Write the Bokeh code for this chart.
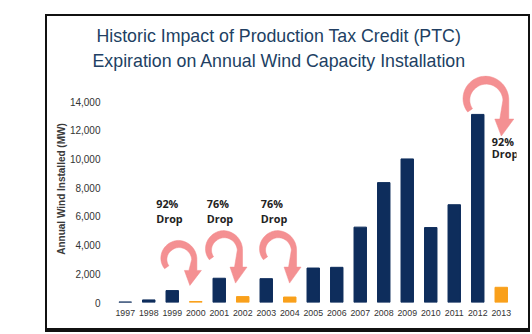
import numpy as np
from bokeh.plotting import figure
from bokeh.models import Range1d, FixedTicker, NumeralTickFormatter, Title, ColumnDataSource
from bokeh.core.properties import value
from bokeh.embed import file_html
from bokeh.resources import INLINE

# ---- data ----
years = [1997, 1998, 1999, 2000, 2001, 2002, 2003, 2004, 2005,
         2006, 2007, 2008, 2009, 2010, 2011, 2012, 2013]
installed_mw = [40, 180, 830, 70, 1690, 410, 1660, 380, 2400,
                2450, 5250, 8350, 10000, 5220, 6810, 13100, 1060]
ptc_lapse_years = [2000, 2002, 2004, 2013]
y_ticks = [0, 2000, 4000, 6000, 8000, 10000, 12000, 14000]

drop_text = ["92%", "76%", "76%", "92%"]
drop_from_years = [1999, 2001, 2003, 2012]

title_line1 = "Historic Impact of Production Tax Credit (PTC)"
title_line2 = "Expiration on Annual Wind Capacity Installation"
y_label = "Annual Wind Installed (MW)"

# ---- styling ----
NAVY = "#0E2D5C"
ORANGE = "#F9A01B"
PINK = "#F38A8C"
TITLE_C = "#213F63"

W, H = 481, 314
MB_L, MB_R, MB_T, MB_B = 66, 12, 59, 28
X0 = 1996.5
PX_PER_YEAR = 23.5
frame_w = W - MB_L - MB_R
frame_h = H - MB_T - MB_B
X1 = X0 + frame_w / PX_PER_YEAR
PX_PER_MW = 201.0 / 14000.0
Y1 = frame_h / PX_PER_MW

p = figure(width=W, height=H, output_backend="svg", toolbar_location=None,
           x_range=Range1d(X0, X1), y_range=Range1d(0, Y1),
           min_border_left=MB_L, min_border_right=MB_R,
           min_border_top=MB_T, min_border_bottom=MB_B,
           title=None)
# slide frame: outline for top/sides, a background stripe for the bottom edge
p.styles = {"outline": "2px solid #111", "position": "absolute",
            "left": "47px", "top": "16px",
            "width": f"{W}px", "height": f"{H}px",
            "background-color": "white",
            "background-image": "linear-gradient(#111111, #111111)",
            "background-repeat": "no-repeat",
            "background-size": "100% 2px",
            "background-position": f"0px {H - 2}px"}
p.outline_line_color = None
p.xgrid.grid_line_color = None
p.ygrid.grid_line_color = None
p.background_fill_color = "white"
p.border_fill_color = None

colors = [ORANGE if y in ptc_lapse_years else NAVY for y in years]
src = ColumnDataSource(dict(x=years, top=installed_mw, color=colors))
p.vbar(x="x", top="top", width=0.53, color="color", source=src)

# axes
p.yaxis.ticker = FixedTicker(ticks=y_ticks)
p.yaxis.formatter = NumeralTickFormatter(format="0,0")
p.yaxis.axis_line_color = None
p.yaxis.major_tick_line_color = None
p.yaxis.minor_tick_line_color = None
p.yaxis.major_label_standoff = 7
p.yaxis.major_label_text_font = "Liberation Sans"
p.yaxis.major_label_text_font_size = "10px"
p.yaxis.major_label_text_color = "#333333"
p.yaxis.axis_label = y_label
p.yaxis.axis_label_standoff = 0
p.yaxis.axis_label_text_font = "Liberation Sans"
p.yaxis.axis_label_text_font_size = "10px"
p.yaxis.axis_label_text_font_style = "bold"
p.yaxis.axis_label_text_color = "#3a3a3a"

p.xaxis.ticker = FixedTicker(ticks=years)
p.xaxis.axis_line_color = None
p.xaxis.major_tick_line_color = None
p.xaxis.minor_tick_line_color = None
p.xaxis.major_label_standoff = 1
p.xaxis.major_label_text_font = "Liberation Sans"
p.xaxis.major_label_text_font_size = "8.8px"
p.xaxis.major_label_text_color = "#333333"

# titles
t2 = Title(text=title_line2, align="left", offset=-21, standoff=9,
           text_font="Liberation Sans", text_font_size="17.8px",
           text_font_style="normal", text_color=TITLE_C)
t1 = Title(text=title_line1, align="left", offset=-17, standoff=-3,
           text_font="Liberation Sans", text_font_size="17.8px",
           text_font_style="normal", text_color=TITLE_C)
p.add_layout(t2, "above")
p.add_layout(t1, "above")

# curved arrows (decoration), shaped in pixels and mapped through the data scale
def arrow_patch(cx, cy, r_out, thick, stem, head_len, wing, tilt):
    R = r_out - thick / 2.0
    th0 = np.radians(215)
    th = np.linspace(th0, 0, 50)
    frac = np.clip((th0 - th) / (th0 - np.radians(90)), 0, 1)
    t = thick * (0.3 + 0.7 * frac)
    ox = (R + t / 2) * np.cos(th)
    oy = (R + t / 2) * np.sin(th)
    ix = (R - t / 2) * np.cos(th[::-1])
    iy = (R - t / 2) * np.sin(th[::-1])
    xs = list(ox) + [R + thick / 2, R + thick / 2 + wing, R - tilt,
                     R - thick / 2 - wing, R - thick / 2] + list(ix)
    ys = list(oy) + [-stem, -stem, -stem - head_len, -stem, -stem] + list(iy)
    xs = cx + np.array(xs) / PX_PER_YEAR
    ys = cy + np.array(ys) / PX_PER_MW
    return list(xs), list(ys)

arrow_specs = [
    # (year offset from drop year, centre value, outer radius px, thickness, stem, head, wing, tilt)
    (0.24, 3000, 19.0, 8.0, 11, 15, 4.5, 3),
    (0.16, 3650, 19.5, 8.0, 17, 16, 4.5, 3),
    (0.46, 3650, 19.5, 8.0, 17, 16, 4.5, 3),
    (0.30, 14100, 24.0, 9.0, 19, 17, 5.0, 3),
]
axs, ays = [], []
for yr, spec in zip(drop_from_years, arrow_specs):
    dx, cv, ro, th_, st, hl, wg, tl = spec
    xx, yy = arrow_patch(yr + dx, cv, ro, th_, st, hl, wg, tl)
    axs.append(xx)
    ays.append(yy)
p.patches(axs, ays, fill_color=PINK, line_color=PINK, line_width=0.5, fill_alpha=0.95)

# drop labels
lab_x = [1998.32, 2000.47, 2002.77, 2012.6]
lab_y_pct = [6900, 6900, 6900, 11230]
lab_y_drop = [5850, 5850, 5850, 10350]
for ys_, txts in ((lab_y_pct, drop_text), (lab_y_drop, ["Drop"] * 4)):
    p.text(x=lab_x, y=ys_, text=txts, text_font=value("Open Sans"),
           text_font_style="bold", text_font_size="10.8px", text_color="#222222",
           text_align="left", text_baseline="middle")

open("out.html", "w").write(file_html(p, INLINE))
